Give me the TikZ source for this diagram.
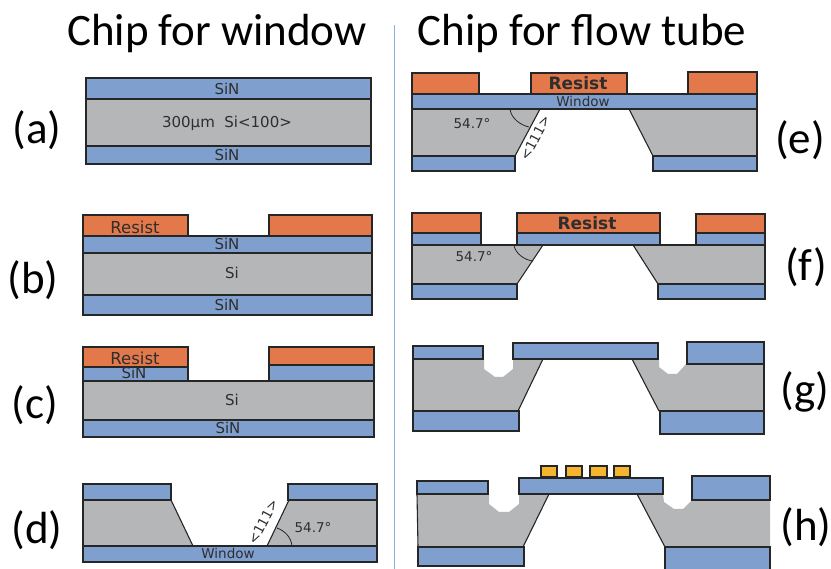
\documentclass[tikz,border=0pt]{standalone}
\usepackage{fontspec}
\setmainfont{DejaVu Sans}
\newfontfamily\headfont{Carlito}
\usepackage{xcolor}
\definecolor{sinblue}{HTML}{7F9FCF}
\definecolor{sigray}{HTML}{B5B6B8}
\definecolor{resistorange}{HTML}{E3784A}
\definecolor{padgold}{HTML}{F5B52E}
\definecolor{dividerblue}{HTML}{8FB0D8}
\definecolor{inktext}{HTML}{2E2E2E}
\tikzset{
  sinlayer/.style={fill=sinblue,draw=black!85,line width=1.1pt},
  silayer/.style={fill=sigray,draw=black!85,line width=1.1pt},
  resistlayer/.style={fill=resistorange,draw=black!85,line width=1.1pt},
  padlayer/.style={fill=padgold,draw=black!85,line width=1.1pt},
  edgeline/.style={draw=black!85,line width=1.1pt},
  arcline/.style={draw=black!85,line width=0.8pt},
  titletext/.style={inner sep=0pt,font=\headfont\fontsize{45}{48}\selectfont},
  steptext/.style={inner sep=0pt,font=\headfont\fontsize{45}{48}\selectfont},
  layertext/.style={inner sep=0pt,text=inktext,font=\fontsize{15}{17}\selectfont},
  notetext/.style={inner sep=0pt,text=inktext,font=\fontsize{13.5}{15}\selectfont},
  resisttext/.style={inner sep=0pt,text=inktext,font=\fontsize{16.5}{18}\selectfont},
  boldtext/.style={inner sep=0pt,text=inktext,font=\bfseries\fontsize{17}{19}\selectfont},
}
\begin{document}
\begin{tikzpicture}[x=1pt,y=-1pt]
  \useasboundingbox (0,0) rectangle (831,569);

  % Titles and divider
  \node[titletext] (titlewindow) at (217,34) {Chip for window};
  \node[titletext] (titleflow) at (582,34) {Chip for flow tube};
  \draw[dividerblue,line width=0.9pt] (394,25) -- (394,569);

  % Step (a)
  \draw[sinlayer] (86,78) rectangle (371,99);
  \draw[silayer] (86,99) rectangle (371,146);
  \draw[sinlayer] (86,146) rectangle (371,164);
  \node[layertext] (asintop) at (227,89) {SiN};
  \node[layertext] (asi) at (227,123) {300µm\ \ Si<100>};
  \node[layertext] (asinbot) at (227,155) {SiN};
  \node[steptext] (stepa) at (37,130) {(a)};

  % Step (b)
  \draw[resistlayer] (83,215) rectangle (188,236);
  \draw[resistlayer] (269,215) rectangle (372,236);
  \draw[sinlayer] (83,236) rectangle (372,253);
  \draw[silayer] (83,253) rectangle (372,295);
  \draw[sinlayer] (83,295) rectangle (372,315);
  \node[resisttext] (bresist) at (135,227) {Resist};
  \node[layertext] (bsintop) at (227,244) {SiN};
  \node[layertext] (bsi) at (232,273) {Si};
  \node[layertext] (bsinbot) at (227,305) {SiN};
  \node[steptext] (stepb) at (33,280) {(b)};

  % Step (c)
  \draw[resistlayer] (83,347) rectangle (188,367);
  \draw[sinlayer] (83,367) rectangle (188,381);
  \draw[resistlayer] (269,347) rectangle (374,365);
  \draw[sinlayer] (269,365) rectangle (374,381);
  \draw[silayer] (83,381) rectangle (374,420);
  \draw[sinlayer] (83,420) rectangle (374,437);
  \node[resisttext] (cresist) at (135,358) {Resist};
  \node[layertext] (csintop) at (134,373) {SiN};
  \node[layertext] (csi) at (232,400) {Si};
  \node[layertext] (csinbot) at (228,428) {SiN};
  \node[steptext] (stepc) at (35,405) {(c)};

  % Step (d)
  \fill[sigray] (83,500) -- (171,500) -- (193,546) -- (83,546) -- cycle;
  \fill[sigray] (289,500) -- (377,500) -- (377,546) -- (267,546) -- cycle;
  \draw[edgeline] (83,500) -- (83,546);
  \draw[edgeline] (377,500) -- (377,546);
  \draw[edgeline] (171,500) -- (193,546);
  \draw[edgeline] (289,500) -- (267,546);
  \draw[sinlayer] (83,484) rectangle (171,500);
  \draw[sinlayer] (288,484) rectangle (377,500);
  \draw[sinlayer] (83,546) rectangle (377,562);
  \draw[arcline] (292,546) .. controls (291,537) and (285,531) .. (277,528);
  \node[notetext] (dwindow) at (228,553) {Window};
  \node[notetext] (dangle) at (313,528) {54.7\textdegree};
  \node[notetext,rotate=62] (dplane) at (263,522) {<111>};
  \node[steptext] (stepd) at (37,530) {(d)};

  % Step (e)
  \fill[sigray] (412,109) -- (540,109) -- (515,156) -- (412,156) -- cycle;
  \fill[sigray] (629,109) -- (757,109) -- (757,156) -- (653,156) -- cycle;
  \draw[edgeline] (412,109) -- (412,156);
  \draw[edgeline] (757,109) -- (757,156);
  \draw[edgeline] (540,109) -- (515,156);
  \draw[edgeline] (629,109) -- (653,156);
  \draw[resistlayer] (412,73) rectangle (479,94);
  \draw[resistlayer] (531,73) rectangle (627,94);
  \draw[resistlayer] (688,72) rectangle (757,94);
  \draw[sinlayer] (412,94) rectangle (757,109);
  \draw[sinlayer] (412,156) rectangle (515,171);
  \draw[sinlayer] (653,156) rectangle (757,171);
  \draw[arcline] (510,109) .. controls (511,118) and (520,125) .. (529,127);
  \node[boldtext] (eresist) at (578,83) {Resist};
  \node[notetext] (ewindow) at (583,101) {Window};
  \node[notetext] (eangle) at (472,124) {54.7\textdegree};
  \node[notetext,rotate=62] (eplane) at (535,138) {<111>};
  \node[steptext] (stepe) at (800,140) {(e)};

  % Step (f)
  \fill[sigray] (412,245) -- (543,245) -- (517,284) -- (412,284) -- cycle;
  \fill[sigray] (633,245) -- (765,245) -- (765,284) -- (658,284) -- cycle;
  \draw[edgeline] (412,245) -- (412,284);
  \draw[edgeline] (765,245) -- (765,284);
  \draw[edgeline] (543,245) -- (517,284);
  \draw[edgeline] (633,245) -- (658,284);
  \draw[resistlayer] (412,213) rectangle (481,233);
  \draw[resistlayer] (517,213) rectangle (660,233);
  \draw[resistlayer] (696,214) rectangle (765,233);
  \draw[sinlayer] (412,233) rectangle (481,245);
  \draw[sinlayer] (517,233) rectangle (660,245);
  \draw[sinlayer] (696,233) rectangle (765,245);
  \draw[sinlayer] (412,284) rectangle (517,299);
  \draw[sinlayer] (658,284) rectangle (765,299);
  \draw[edgeline] (481,245) -- (517,245);
  \draw[edgeline] (660,245) -- (696,245);
  \draw[arcline] (514,245) .. controls (515,253) and (524,260) .. (533,261);
  \node[boldtext] (fresist) at (587,223) {Resist};
  \node[notetext] (fangle) at (474,257) {54.7\textdegree};
  \node[steptext] (stepf) at (806,267) {(f)};

  % Step (g)
  \fill[sigray] (413,359) -- (484,359) -- (484,369) -- (495,377) -- (503,377)
    -- (513,369) -- (513,359) -- (543,359) -- (518,411) -- (413,411) -- cycle;
  \fill[sigray] (632,359) -- (659,359) -- (659,367) -- (668,374) -- (677,374)
    -- (686,364) -- (764,364) -- (764,411) -- (659,411) -- cycle;
  \draw[edgeline] (413,359) -- (413,411);
  \draw[edgeline] (764,364) -- (764,411);
  \draw[edgeline] (543,359) -- (518,411);
  \draw[edgeline] (632,359) -- (659,411);
  \draw[sinlayer] (413,346) rectangle (483,359);
  \draw[sinlayer] (513,343) rectangle (658,359);
  \draw[sinlayer] (687,342) rectangle (764,364);
  \draw[sinlayer] (413,411) rectangle (519,431);
  \draw[sinlayer] (660,411) rectangle (764,434);
  \node[steptext] (stepg) at (805,392) {(g)};

  % Step (h)
  \fill[sigray] (417,494) -- (489,494) -- (489,504) -- (499,512) -- (509,512)
    -- (519,504) -- (519,494) -- (549,494) -- (523,547) -- (418,547) -- cycle;
  \fill[sigray] (637,494) -- (663,494) -- (664,502) -- (674,509) -- (683,509)
    -- (692,500) -- (770,500) -- (770,547) -- (665,547) -- cycle;
  \draw[edgeline] (417,494) -- (418,547);
  \draw[edgeline] (549,494) -- (523,547);
  \draw[edgeline] (637,494) -- (665,547);
  \draw[sinlayer] (417,481) rectangle (488,494);
  \draw[sinlayer] (519,478) rectangle (663,494);
  \draw[sinlayer] (692,476) rectangle (770,500);
  \draw[sinlayer] (418,547) rectangle (524,566);
  \draw[sinlayer] (665,547) rectangle (770,571);
  \draw[padlayer] (541,466) rectangle (557,477);
  \draw[padlayer] (566,466) rectangle (582,477);
  \draw[padlayer] (590,466) rectangle (607,477);
  \draw[padlayer] (614,466) rectangle (630,477);
  \node[steptext] (steph) at (806,527) {(h)};
\end{tikzpicture}
\end{document}
